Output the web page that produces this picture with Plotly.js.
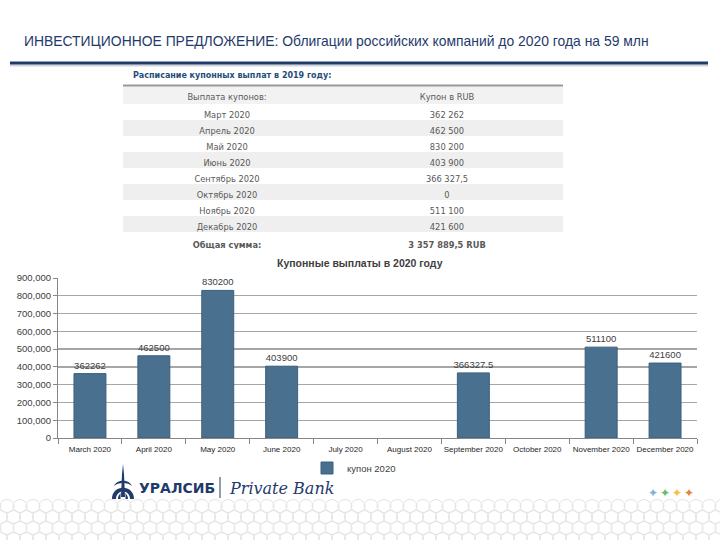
<!DOCTYPE html>
<html>
<head>
<meta charset="utf-8">
<script src="https://cdn.plot.ly/plotly-3.0.1.min.js"></script>
<style>html,body{margin:0;padding:0;background:#fff}#chart{width:720px;height:540px}</style>
</head>
<body>
<div id="chart"></div>
<script>
// ---- data ----
var chartMonths = ["March 2020","April 2020","May 2020","June 2020","July 2020","August 2020","September 2020","October 2020","November 2020","December 2020"];
var chartValues = [362262, 462500, 830200, 403900, null, null, 366327.5, null, 511100, 421600];
var seriesName = "купон 2020";

var tableHeader = ["Выплата купонов:", "Купон в RUB"];
var tableMonths = ["Март 2020","Апрель 2020","Май 2020","Июнь 2020","Сентябрь 2020","Октябрь 2020","Ноябрь 2020","Декабрь 2020"];
var tableCoupons = ["362 262","462 500","830 200","403 900","366 327,5","0","511 100","421 600"];
var totalLabel = "Общая сумма:";
var totalValue = "3 357 889,5 RUB";

var yTickVals = [0,100000,200000,300000,400000,500000,600000,700000,800000,900000];

var pageTitle = "ИНВЕСТИЦИОННОЕ ПРЕДЛОЖЕНИЕ: Облигации российских компаний до 2020 года на 59 млн";
var tableTitle = "Расписание купонных выплат в 2019 году:";
var chartTitle = "Купонные выплаты в 2020 году";

// ---- traces ----
var barText = chartValues.map(function(v){ return v === null ? "" : String(v); });

var bars = {
  type: "bar", x: chartMonths, y: chartValues, name: seriesName,
  xaxis: "x", yaxis: "y",
  width: 0.5,
  marker: {color: "#4a7090", line: {color: "#3d5f7c", width: 1}},
  text: barText, textposition: "outside", cliponaxis: false, constraintext: "none",
  textfont: {family: "Liberation Sans, Arial, sans-serif", size: 9.5, color: "#404040"},
  hoverinfo: "x+y"
};

var rowFills = [];
for (var i = 0; i < tableMonths.length + 1; i++) rowFills.push(i % 2 === 1 ? "#efefef" : "#ffffff");

var table = {
  type: "table",
  domain: {x: [123/720, 563/720], y: [1 - 249/540, 1 - 86/540]},
  columnwidth: [208, 232],
  header: {
    values: tableHeader,
    height: 18,
    fill: {color: "#f2f2f2"},
    line: {width: 0, color: "#f2f2f2"},
    align: "center",
    font: {family: "DejaVu Sans, Verdana, sans-serif", size: 8.3, color: "#595959"}
  },
  cells: {
    values: [tableMonths.concat(["<b>" + totalLabel + "</b>"]), tableCoupons.concat(["<b>" + totalValue + "</b>"])],
    height: 16,
    fill: {color: [rowFills, rowFills]},
    line: {width: 0, color: "#ffffff"},
    align: "center",
    font: {family: "DejaVu Sans, Verdana, sans-serif", size: 8.3, color: "#595959"}
  }
};

// ---- decorative shapes (pixel axes x2/y2) ----
var shapes = [];
function px(s){ s.xref = "x2"; s.yref = "y2"; shapes.push(s); }
// title rule
px({type:"line", x0:10, x1:708, y0:65.5, y1:65.5, line:{color:"#d0d4dc", width:2}});
px({type:"line", x0:10, x1:708, y0:63, y1:63, line:{color:"#1f3a6b", width:3}});
// table header top border
px({type:"line", x0:123, x1:563, y0:85.5, y1:85.5, line:{color:"#9a9a9a", width:2}});
// logo icon
px({type:"path", path:"M 112 499 C 112 484, 134 484, 134 499 L 130 499 C 130 489, 116 489, 116 499 Z", fillcolor:"#1f3a6b", line:{width:0}});
px({type:"path", path:"M 118 499 C 118 491, 128 491, 128 499 L 125.5 499 L 125.5 493 L 120.5 493 L 120.5 499 Z", fillcolor:"#1f3a6b", line:{width:0}});
px({type:"path", path:"M 121 497 L 122 474 L 123 464 L 124 474 L 125 497 Z", fillcolor:"#1f3a6b", line:{width:0}});
px({type:"path", path:"M 114 486 C 117 479, 129 479, 132 486 C 128 482, 118 482, 114 486 Z", fillcolor:"#1f3a6b", line:{width:0}});
// logo divider
px({type:"line", x0:220, x1:220, y0:477, y1:498, line:{color:"#1f3a6b", width:1}});
// footer honeycomb-like circles
for (var r = 0; r < 4; r++) {
  var cy = 506 + r * 11;
  var off = (r % 2) * 6.5;
  for (var cx = -6 + off; cx < 730; cx += 13) {
    px({type:"circle", x0:cx-7, x1:cx+7, y0:cy-6.5, y1:cy+6.5, line:{color:"#e4e4e4", width:1}, layer:"below"});
  }
}

// ---- annotations ----
var ann = [];
function pa(a){ a.xref = "x2"; a.yref = "y2"; a.showarrow = false; ann.push(a); }
pa({x:22, y:41, xanchor:"left", yanchor:"middle", text:pageTitle,
    font:{family:"Liberation Sans Narrow, Liberation Sans, Arial, sans-serif", size:13.9, color:"#1f3a6b"}});
pa({x:131, y:75, xanchor:"left", yanchor:"middle", text:"<b>" + tableTitle + "</b>",
    font:{family:"DejaVu Sans, Verdana, sans-serif", size:8, color:"#1f4e79"}});
pa({x:360, y:263, xanchor:"center", yanchor:"middle", text:"<b>" + chartTitle + "</b>",
    font:{family:"Liberation Sans, Arial, sans-serif", size:10.5, color:"#404040"}});
pa({x:137, y:488, xanchor:"left", yanchor:"middle", text:"<b>УРАЛСИБ</b>",
    font:{family:"DejaVu Sans, Verdana, sans-serif", size:14, color:"#1f3a6b"}});
pa({x:227, y:488, xanchor:"left", yanchor:"middle", text:"<i>Private Bank</i>",
    font:{family:"DejaVu Serif, Liberation Serif, serif", size:16, color:"#1f3a6b"}});
var starColors = ["#7fb2da", "#6dbb6a", "#f2c33a", "#e8843a"];
for (var k = 0; k < starColors.length; k++) {
  pa({x:653 + k*12, y:493, xanchor:"center", yanchor:"middle", text:"✦",
      font:{family:"DejaVu Sans, sans-serif", size:12, color:starColors[k]}});
}

var layout = {
  width: 720, height: 540,
  margin: {l:0, r:0, t:0, b:0, pad:0},
  paper_bgcolor: "#ffffff", plot_bgcolor: "rgba(0,0,0,0)",
  showlegend: true,
  legend: {orientation:"h", x:354/720, xanchor:"center", y:1-468/540, yanchor:"middle",
           font:{family:"Liberation Sans, Arial, sans-serif", size:9.5, color:"#404040"},
           itemwidth:30, bgcolor:"rgba(0,0,0,0)"},
  xaxis: {
    domain:[58/720, 697/720], anchor:"y", type:"category", range:[-0.5, 9.5],
    showline:true, linecolor:"#868686", linewidth:1,
    ticks:"outside", tickson:"boundaries", ticklen:5, tickcolor:"#868686",
    tickangle:0, ticklabelstandoff:3,
    tickfont:{family:"Liberation Sans Narrow, Liberation Sans, Arial, sans-serif", size:8, color:"#262626"},
    showgrid:false, fixedrange:true, automargin:false
  },
  yaxis: {
    domain:[1-438/540, 1-278/540], anchor:"x", range:[0, 900000],
    tickvals: yTickVals, tickformat:",d",
    showline:true, linecolor:"#868686", linewidth:1,
    ticks:"outside", ticklen:4, tickcolor:"#868686",
    showgrid:true, gridcolor:"#a6a6a6", gridwidth:1.3, zeroline:false,
    tickfont:{family:"Liberation Sans, Arial, sans-serif", size:9.5, color:"#404040"},
    fixedrange:true, automargin:false
  },
  xaxis2: {domain:[0,1], anchor:"y2", range:[0,720], visible:false, fixedrange:true},
  yaxis2: {domain:[0,1], anchor:"x2", range:[540,0], visible:false, fixedrange:true},
  shapes: shapes,
  annotations: ann
};

var dummy = {type:"scatter", x:[0], y:[0], xaxis:"x2", yaxis:"y2", mode:"markers",
             marker:{opacity:0}, showlegend:false, hoverinfo:"skip"};

Plotly.newPlot("chart", [dummy, table, bars], layout, {displayModeBar:false, staticPlot:true});
</script>
</body>
</html>
